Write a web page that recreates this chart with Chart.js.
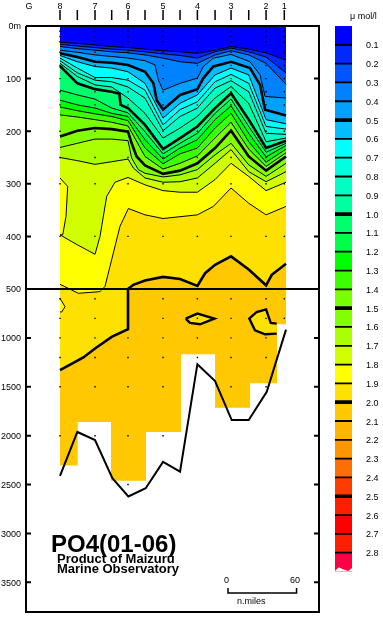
<!DOCTYPE html>
<html lang="en">
<head>
    <meta charset="UTF-8">
    <title>PO4(01-06)</title>
    <script src="https://cdn.jsdelivr.net/npm/chart.js"></script>
    <style>
        html, body { margin: 0; padding: 0; background: #fff; }
        #wrap { position: relative; width: 383px; height: 618px; overflow: hidden; }
        canvas { position: absolute; top: 0; }
        #section { left: 0; }
        #colorbar { left: 326px; }
    </style>
</head>
<body>
<div id="wrap">
    <canvas id="section" width="383" height="618"></canvas>
    <canvas id="colorbar" width="57" height="618"></canvas>
</div>
<script>
    // station positions along the section, n.miles from station 8
    const stationNames = ['8', '7', '6', '5', '4', '3', '2', '1'];
    const stationMiles = [0, 30.9, 60, 90.9, 121.2, 150.9, 181.8, 197.9];
    const midMiles = [15.3, 45.6, 75, 105.9, 136.8, 166.5];
    const gLabelMiles = -27.4;
    const columns = [0, 15.3, 30.9, 45.6, 60, 75, 90.9, 105.9, 121.2, 136.8, 150.9, 166.5, 181.8, 199.4];

    // colour of each 0.1 umol/l band, 0.0-0.1 first
    const bandColors = [
        '#0000ff', '#0028ff', '#0055ff', '#0082ff', '#00a0ff', '#00beff', '#00ffff', '#00ffe1',
        '#00ffc3', '#00ffa0', '#00ff6e', '#00ff46', '#00ff00', '#3cff00', '#78ff00', '#82ff00',
        '#aaff00', '#d2ff00', '#ffff00', '#ffe100', '#ffc800', '#ffb400', '#ff9600', '#ff6e00',
        '#ff3c00', '#ff1e00', '#ff0000', '#ff1e00', '#ff0046'
    ];
    const barLabels = ['0.1','0.2','0.3','0.4','0.5','0.6','0.7','0.8','0.9','1.0','1.1','1.2','1.3','1.4',
        '1.5','1.6','1.7','1.8','1.9','2.0','2.1','2.2','2.3','2.4','2.5','2.6','2.7','2.8'];

    // contour depths (m)
    const c01 = [31, 33, 36, 39, 41, 44, 47, 49, 52, 46, 39, 44, 51, 65];
    const c02 = [35, 38, 41, 44, 46, 49, 53, 56, 61, 49, 42, 49, 59, 89];
    const c03 = [39, 43, 46, 49, 51, 55, 61, 68, 71, 55, 47, 55, 71, 111];
    const c04x = [0, 15.3, 30.9, 45.6, 60, 75, 83.8, 86.8, 90.9, 105.9, 121.2, 126.5, 135.3, 150.9, 167.6, 176.5, 180.9, 199.4];
    const c04 = [46, 50, 55, 58, 61, 66, 74, 103, 122, 109, 99, 77, 61, 54, 68, 93, 134, 137];
    const c05x = [0, 15.3, 30.9, 45.6, 60, 75, 82.4, 85.3, 90.9, 105.9, 121.2, 126.5, 135.3, 150.9, 167.6, 176.5, 180.9, 199.4];
    const c05 = [52, 59, 68, 70, 74, 87, 109, 141, 159, 131, 120, 99, 77, 68, 80, 112, 159, 170];
    const c06 = [56, 68, 77, 80, 87, 109, 175, 147, 131, 93, 80, 93, 178, 186];
    const c07 = [61, 80, 98, 98, 103, 122, 188, 159, 144, 106, 92, 109, 191, 196];
    const c08 = [66, 89, 103, 106, 116, 137, 199, 172, 156, 118, 104, 125, 204, 206];
    const c09 = [71, 96, 112, 116, 137, 166, 213, 194, 172, 137, 115, 147, 220, 213];
    const c10x = [0, 15.3, 30.9, 45.6, 52.4, 53.5, 60, 75, 90.9, 105.9, 121.2, 136.8, 150.9, 166.5, 181.8, 199.4];
    const c10 = [76, 109, 120, 125, 129, 150, 156, 188, 234, 213, 191, 156, 128, 178, 232, 218];
    const c11 = [122, 131, 139, 156, 165, 201, 243, 223, 204, 166, 139, 191, 240, 223];
    const c12 = [141, 150, 156, 166, 172, 216, 253, 232, 216, 178, 152, 204, 249, 227];
    const c13 = [154, 161, 167, 172, 180, 232, 262, 243, 232, 194, 166, 220, 259, 234];
    const c14 = [169, 173, 178, 183, 190, 248, 272, 261, 247, 213, 183, 234, 267, 241];
    const c15x = [0, 15.3, 30.9, 45.6, 60, 63.2, 67.6, 75, 90.9, 105.9, 121.2, 136.8, 150.9, 166.5, 181.8, 199.4];
    const c15 = [210, 199, 194, 196, 201, 223, 248, 265, 281, 275, 261, 232, 199, 248, 275, 248];
    const c16x = [0, 15.3, 30.9, 45.6, 60, 63.2, 69.1, 75, 90.9, 105.9, 121.2, 136.8, 150.9, 166.5, 181.8, 199.4];
    const c16 = [231, 223, 215, 215, 218, 251, 273, 280, 287, 283, 273, 245, 223, 264, 286, 261];
    const c17x = [0, 15.3, 30.9, 45.6, 60, 64.7, 75, 90.9, 105.9, 121.2, 136.8, 150.9, 166.5, 181.8, 199.4];
    const c17 = [250, 256, 263, 258, 253, 270, 289, 297, 296, 289, 261, 235, 277, 296, 277];
    const c18x = [0, 15.3, 30.9, 35.3, 41.2, 48.5, 60, 75, 90.9, 105.9, 121.2, 136.8, 150.9, 166.5, 181.8, 199.4];
    const c18 = [397, 416, 434, 400, 324, 297, 288, 302, 313, 316, 316, 292, 261, 286, 313, 297];
    const c19x = [0, 16.2, 35.3, 39.7, 44.1, 52.9, 60.3, 75, 90.9, 121.2, 135.3, 150.9, 166.5, 181.8, 199.4];
    const c19 = [491, 544, 527, 495, 457, 381, 347, 359, 366, 359, 343, 308, 337, 359, 343];
    const c20x = [0, 20.6, 30.9, 45.6, 60, 60, 64.7, 75, 90.9, 105.9, 121.2, 128, 136.8, 150.9, 166.5, 181.8, 186.8, 199.4];
    const c20 = [1330, 1200, 1109, 990, 912, 500, 492, 484, 477, 481, 494, 470, 454, 438, 463, 493, 473, 452];

    // pockets left over from the contouring
    const pocket18x = [0, 6.8, 5.3, 2.4, 0];
    const pocket18 = [289, 305, 362, 397, 397];
    const pocket19x = [0, 4.4, 1.5, 0];
    const pocket19 = [595, 681, 735, 735];
    const island1x = [110.9, 121.2, 136.2, 123.5, 114.7, 110.9];
    const island1 = [803, 752, 803, 861, 847, 803];
    const island2x = [191.2, 180.9, 172, 167, 173.5, 181.8, 185.9, 191.2];
    const island2 = [956, 963, 922, 803, 735, 708, 847, 854];

    // blocks without data and the sea floor
    const maskEdges = [0, 15.6, 45, 75.9, 106.8, 136.8, 167.6, 191.5, 199.4];
    const maskDepths = [2306, 1860, 2462, 1962, 1167, 1714, 1463, 861];
    const floorMiles = [0, 15.3, 30.9, 46.2, 60.3, 75.6, 90.9, 105.9, 121.2, 136.8, 151.5, 166.5, 182.4, 199.4];
    const floorDepths = [2411, 1962, 2044, 2435, 2622, 2537, 2268, 2367, 1269, 1442, 1840, 1840, 1551, 915];

    // bottle depths and the deepest bottle at each station
    const bottleDepths = [10, 20, 30, 50, 75, 100, 125, 150, 200, 250, 300, 400, 500, 600, 800, 1000, 1200, 1500, 2000, 2500];
    const stationDeepest = [2000, 2000, 2500, 2000, 1200, 1500, 1500, 800];

    const depthTicks = [0, 100, 200, 300, 400, 500, 1000, 1500, 2000, 2500, 3000, 3500];
    const depthMax = 3803;
    const leftMiles = -30;
    const rightMiles = 228.5;

    // 0-500 m takes the upper part of the frame, the rest is squeezed below it
    const topShare = 263 / 586;
    class BrokenDepthScale extends Chart.LinearScale {
        getPixelForValue(v) {
            const f = v <= 500 ? v / 500 * topShare : topShare + (v - 500) / (this.max - 500) * (1 - topShare);
            return this.top + f * this.height;
        }
        getValueForPixel(p) {
            const f = (p - this.top) / this.height;
            return f <= topShare ? f / topShare * 500 : 500 + (f - topShare) / (1 - topShare) * (this.max - 500);
        }
    }
    BrokenDepthScale.id = 'brokenDepth';
    BrokenDepthScale.defaults = Chart.LinearScale.defaults;
    Chart.register(BrokenDepthScale);

    function pts(xs, ys) {
        return xs.map((x, i) => ({ x: x, y: ys[i] }));
    }

    function strokes(list) {
        // several short strokes in one dataset, split by gaps
        const out = [];
        list.forEach(s => { out.push(s[0], s[1], { x: null, y: null }); });
        return out;
    }

    const contours = [
        [columns, c01], [columns, c02], [columns, c03], [c04x, c04], [c05x, c05],
        [columns, c06], [columns, c07], [columns, c08], [columns, c09], [c10x, c10],
        [columns, c11], [columns, c12], [columns, c13], [columns, c14], [c15x, c15],
        [c16x, c16], [c17x, c17], [c18x, c18], [c19x, c19], [c20x, c20]
    ];

    const datasets = [];
    datasets.push({ data: pts([0, 199.4], [0, 0]), borderWidth: 0, fill: 'start', backgroundColor: bandColors[0] });
    contours.forEach((c, i) => {
        datasets.push({
            data: pts(c[0], c[1]),
            borderColor: '#000',
            borderWidth: (i + 1) % 5 === 0 ? 2.6 : 1,
            fill: 'start',
            backgroundColor: bandColors[i + 1]
        });
    });
    function pocket(xs, ys, color, width) {
        datasets.push({ data: pts(xs, ys), borderColor: '#000', borderWidth: width, fill: 'shape', backgroundColor: color });
    }
    pocket(pocket18x, pocket18, bandColors[18], 1);
    pocket(pocket19x, pocket19, bandColors[18], 1);
    pocket(island1x, island1, bandColors[19], 2.4);
    pocket(island2x, island2, bandColors[19], 2.4);

    // white block under the last sampled depth
    const maskPts = [];
    maskDepths.forEach((d, i) => {
        maskPts.push({ x: maskEdges[i], y: d }, { x: maskEdges[i + 1], y: d });
    });
    datasets.push({ data: maskPts, borderWidth: 0, fill: 'start', backgroundColor: '#fff' });

    datasets.push({ data: pts(floorMiles, floorDepths), borderColor: '#000', borderWidth: 2 });

    // bottle dots
    const dots = [];
    stationMiles.forEach((x, i) => {
        bottleDepths.forEach(d => { if (d <= stationDeepest[i]) dots.push({ x: x, y: d }); });
    });
    datasets.push({ data: dots, showLine: false, pointRadius: 1, pointStyle: 'rect', pointBackgroundColor: '#000', pointBorderWidth: 0 });

    // break line at 500 m
    datasets.push({ data: pts([leftMiles, rightMiles], [500, 500]), borderColor: '#000', borderWidth: 2 });

    // frame
    datasets.push({
        data: pts([leftMiles, rightMiles, rightMiles, leftMiles, leftMiles], [0, 0, depthMax, depthMax, 0]),
        borderColor: '#000', borderWidth: 2, clip: false
    });

    // depth ticks on both sides
    const sideTicks = [];
    depthTicks.slice(1).forEach(d => {
        sideTicks.push([{ x: leftMiles, y: d }, { x: leftMiles + 4.4, y: d }]);
        sideTicks.push([{ x: rightMiles - 4.4, y: d }, { x: rightMiles, y: d }]);
    });
    datasets.push({ data: strokes(sideTicks), borderColor: '#000', borderWidth: 2, clip: false });

    // station ticks above the frame
    const topTicks = stationMiles.concat(midMiles).map(x => [{ x: x, y: -30.4 }, { x: x, y: -11.4 }]);
    datasets.push({ data: strokes(topTicks), borderColor: '#000', borderWidth: 1.5, clip: false });

    // 60 n.miles scale bar
    datasets.push({
        data: pts([148.2, 148.2, 208.7, 208.7], [3557, 3608, 3608, 3557]),
        borderColor: '#000', borderWidth: 1.5, clip: false
    });

    datasets.forEach((d, i) => {
        d.order = datasets.length - i;
        d.pointRadius = d.pointRadius || 0;
        d.tension = 0;
    });

    const captionPlugin = {
        id: 'caption',
        afterDraw(chart) {
            const ctx = chart.ctx;
            ctx.save();
            ctx.fillStyle = '#000';
            ctx.textBaseline = 'middle';
            ctx.textAlign = 'left';
            ctx.font = 'bold 24px "Liberation Sans"';
            ctx.fillText('PO4(01-06)', 51, 545);
            ctx.font = 'bold 13px "Liberation Sans"';
            ctx.fillText('Product of Maizuru', 57, 559);
            ctx.fillText('Marine Observatory', 57, 569);
            ctx.font = '9px "Liberation Sans"';
            ctx.fillText('0', 224, 581);
            ctx.fillText('60', 290, 581);
            ctx.fillText('n.miles', 237, 602);
            ctx.restore();
        }
    };

    new Chart(document.getElementById('section').getContext('2d'), {
        type: 'line',
        data: { datasets: datasets },
        plugins: [captionPlugin],
        options: {
            responsive: false,
            animation: false,
            devicePixelRatio: 1,
            parsing: true,
            layout: { padding: { left: 0, right: 64, top: 0, bottom: 6 } },
            plugins: { legend: { display: false }, tooltip: { enabled: false } },
            scales: {
                x: {
                    type: 'linear',
                    position: 'top',
                    min: leftMiles,
                    max: rightMiles,
                    afterFit(s) {
                        s.height = 26;
                        s.paddingLeft = 0;
                        s.paddingRight = 0;
                    },
                    afterBuildTicks(s) {
                        s.ticks = [gLabelMiles].concat(stationMiles).map(v => ({ value: v }));
                    },
                    grid: { display: false, drawTicks: false },
                    border: { display: false },
                    ticks: {
                        autoSkip: false,
                        maxRotation: 0,
                        padding: 14,
                        font: { family: 'Liberation Sans', size: 9 },
                        color: '#000',
                        callback(v) {
                            return v === gLabelMiles ? 'G' : stationNames[stationMiles.indexOf(v)];
                        }
                    }
                },
                y: {
                    type: 'brokenDepth',
                    min: 0,
                    max: depthMax,
                    afterFit(s) {
                        s.width = 26;
                        s.paddingTop = 0;
                        s.paddingBottom = 0;
                    },
                    afterBuildTicks(s) {
                        s.ticks = depthTicks.map(v => ({ value: v }));
                    },
                    grid: { display: false, drawTicks: false },
                    border: { display: false },
                    ticks: {
                        autoSkip: false,
                        padding: 5,
                        labelOffset: 1,
                        font: { family: 'Liberation Sans', size: 9 },
                        color: '#000',
                        callback(v) { return v === 0 ? '0m' : String(v); }
                    }
                }
            }
        }
    });

    // colour bar
    const barDatasets = [];
    const thinRule = 0.003;
    const thickRule = 0.008;
    barLabels.forEach(l => {
        const v = Number(l);
        const w = Math.round(v * 10) % 5 === 0 ? thickRule : thinRule;
        barDatasets.push({ type: 'bar', data: [[v - w, v + w]], backgroundColor: '#000', order: 1 });
    });
    bandColors.forEach((c, i) => {
        barDatasets.push({ type: 'bar', data: [[i / 10, (i + 1) / 10]], backgroundColor: c, order: 2 });
    });
    // notch cut out of the last cell
    const notchX = [0, 0.22, 0.5, 0.78, 1];
    const notchY = [2.898, 2.878, 2.89, 2.898, 2.882];
    barDatasets.push({
        type: 'line', xAxisID: 'xn', data: pts(notchX, notchY), borderWidth: 0,
        pointRadius: 0, fill: 'start', backgroundColor: '#fff', order: 0
    });

    const unitPlugin = {
        id: 'unit',
        afterDraw(chart) {
            const ctx = chart.ctx;
            ctx.save();
            ctx.fillStyle = '#000';
            ctx.textBaseline = 'middle';
            ctx.font = '9px "Liberation Sans"';
            ctx.fillText('\u03bc mol/l', 24, 17);
            ctx.restore();
        }
    };

    new Chart(document.getElementById('colorbar').getContext('2d'), {
        data: { labels: [''], datasets: barDatasets },
        plugins: [unitPlugin],
        options: {
            responsive: false,
            animation: false,
            devicePixelRatio: 1,
            layout: { padding: { left: 9, right: 0, top: 26, bottom: 46.5 } },
            plugins: { legend: { display: false }, tooltip: { enabled: false } },
            scales: {
                x: { display: false, grid: { display: false } },
                xn: { type: 'linear', display: false, min: 0, max: 1 },
                y: {
                    position: 'right',
                    reverse: true,
                    min: 0,
                    max: 2.9,
                    afterFit(s) {
                        s.width = 31;
                        s.paddingTop = 0;
                        s.paddingBottom = 0;
                    },
                    afterBuildTicks(s) {
                        s.ticks = barLabels.map(l => ({ value: Number(l) }));
                    },
                    grid: { display: false, drawTicks: false },
                    border: { display: false },
                    ticks: {
                        autoSkip: false,
                        padding: 14,
                        labelOffset: 1,
                        font: { family: 'Liberation Sans', size: 9 },
                        color: '#000',
                        callback(v) { return v.toFixed(1); }
                    }
                }
            },
            datasets: { bar: { grouped: false, barPercentage: 1, categoryPercentage: 1, borderWidth: 0 } }
        }
    });
</script>
</body>
</html>
